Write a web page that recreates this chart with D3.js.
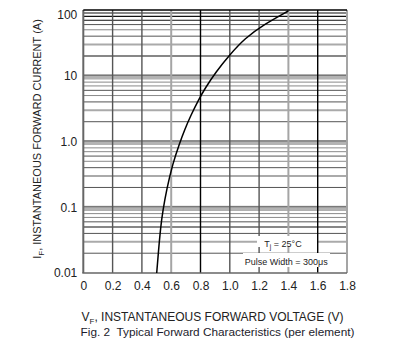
<!DOCTYPE html>
<html>
<head>
<meta charset="utf-8">
<script src="https://cdn.jsdelivr.net/npm/d3@7"></script>
<style>
  html, body { margin: 0; padding: 0; background: #fff; }
  svg { display: block; }
  text { font-family: "Liberation Sans", Arial, sans-serif; }
</style>
</head>
<body>
<svg id="chart" width="398" height="350"></svg>
<script>
// ---- data ----
const voltage = [0.501, 0.512, 0.528, 0.544, 0.568, 0.611, 0.657, 0.691, 0.735, 0.786, 0.831, 0.906, 0.998, 1.104, 1.227, 1.399];
const current = [0.0100, 0.0200, 0.0506, 0.0908, 0.183, 0.466, 0.94, 1.50, 2.53, 4.28, 6.44, 11.5, 20.7, 37.2, 59.2, 96.6];
const xTickValues = [0, 0.2, 0.4, 0.6, 0.8, 1.0, 1.2, 1.4, 1.6, 1.8];
const xTickLabels = ["0", "0.2", "0.4", "0.6", "0.8", "1.0", "1.2", "1.4", "1.6", "1.8"];
const yTickValues = [0.01, 0.1, 1, 10, 100];
const yTickLabels = ["0.01", "0.1", "1.0", "10", "100"];
const minorMultipliers = [2, 3, 4, 5, 6, 7, 8, 9];
const notes = ["= 25°C", "Pulse Width = 300μs"];

// ---- layout ----
const svg = d3.select("#chart");
const x = d3.scaleLinear().domain([0, 1.8]).range([83.3, 347]);
const y = d3.scaleLog().domain([0.01, 100]).range([273, 10]);

const grid = svg.append("g");

// horizontal minor lines
const minorVals = [];
[0.01, 0.1, 1, 10].forEach(d => minorMultipliers.forEach(m => minorVals.push({v: +(d * m).toPrecision(3), m})));
function hStyle(o) {
  if (o.v === 20 || o.v === 0.05 || o.v === 70 || o.v === 80 || o.v === 90) return {c: "#111", w: 1.1};
  if (o.m === 3) return {c: "#aaa", w: 2};
  if (o.m === 2 || o.m === 4 || o.m === 6) return {c: "#555", w: 1};
  return {c: "#8a8a8a", w: 1};
}
grid.selectAll("line.hminor").data(minorVals).join("line")
  .attr("x1", x(0)).attr("x2", x(1.8))
  .attr("y1", d => y(d.v)).attr("y2", d => y(d.v))
  .attr("stroke", d => hStyle(d).c).attr("stroke-width", d => hStyle(d).w);

// decade bands
const midDecades = yTickValues.filter(v => v > 0.01 && v < 100);
grid.selectAll("line.band").data(midDecades).join("line")
  .attr("x1", x(0)).attr("x2", x(1.8))
  .attr("y1", d => y(d) + 1).attr("y2", d => y(d) + 1)
  .attr("stroke", "#b3b3b3").attr("stroke-width", 5);
grid.selectAll("line.bandline").data(midDecades).join("line")
  .attr("x1", x(0)).attr("x2", x(1.8))
  .attr("y1", d => y(d) - 0.5).attr("y2", d => y(d) - 0.5)
  .attr("stroke", "#666").attr("stroke-width", 1);

// vertical lines
function vStyle(v) {
  const k = Math.round(v * 10);
  if (k === 8 || k === 16) return {c: "#000", w: 1.4};
  if (k === 6 || k === 14 || k === 18) return {c: "#a5a5a5", w: 2};
  if (k === 0) return {c: "#666", w: 2};
  return {c: "#555", w: 1.4};
}
grid.selectAll("line.v").data(xTickValues).join("line")
  .attr("x1", d => x(d)).attr("x2", d => x(d))
  .attr("y1", y(100)).attr("y2", y(0.01))
  .attr("stroke", d => vStyle(d).c).attr("stroke-width", d => vStyle(d).w);

// top and bottom borders
grid.append("line").attr("x1", x(0)).attr("x2", x(1.8)).attr("y1", y(100)).attr("y2", y(100))
  .attr("stroke", "#000").attr("stroke-width", 1.5);
grid.append("line").attr("x1", x(0) - 1).attr("x2", x(1.8)).attr("y1", y(0.01)).attr("y2", y(0.01))
  .attr("stroke", "#666").attr("stroke-width", 1.5);

// annotation boxes + text
const ann = svg.append("g");
const t1 = ann.append("text").attr("x", 283).attr("y", 246.5)
  .attr("text-anchor", "middle").attr("font-size", 9).attr("fill", "#222");
t1.append("tspan").text("T");
t1.append("tspan").attr("font-size", 6.5).attr("dy", 2).text("j");
t1.append("tspan").attr("dy", -2).text(" " + notes[0]);
const t2 = ann.append("text").attr("x", 286.3).attr("y", 265)
  .attr("text-anchor", "middle").attr("font-size", 9).attr("fill", "#222").text(notes[1]);
ann.insert("rect", "text").attr("x", 257).attr("y", 236).attr("width", 60).attr("height", 11).attr("fill", "#fff");
ann.insert("rect", "text").attr("x", 243).attr("y", 253).attr("width", 87).attr("height", 14).attr("fill", "#fff");

// curve
const pts = voltage.map((v, i) => [v, current[i]]);
svg.append("path").datum(pts)
  .attr("d", d3.line().x(d => x(d[0])).y(d => y(d[1])).curve(d3.curveBasis))
  .attr("fill", "none").attr("stroke", "#000").attr("stroke-width", 1.5);

// axes
const xAxis = svg.append("g").attr("transform", `translate(0,${y(0.01)})`)
  .call(d3.axisBottom(x).tickValues(xTickValues).tickFormat((d, i) => xTickLabels[i]).tickSize(0).tickPadding(8));
xAxis.select(".domain").remove();
xAxis.selectAll("text").attr("font-size", 12).attr("fill", "#222").style("font-family", "Liberation Sans, Arial, sans-serif");

const yAxis = svg.append("g").attr("transform", `translate(${x(0)},0)`)
  .call(d3.axisLeft(y).tickValues(yTickValues).tickFormat((d, i) => yTickLabels[i]).tickSize(0).tickPadding(6));
yAxis.select(".domain").remove();
yAxis.selectAll("text").attr("font-size", 12).attr("fill", "#222").style("font-family", "Liberation Sans, Arial, sans-serif");
yAxis.selectAll(".tick").filter(d => d === 100).select("text").attr("dy", "0.72em");

// axis titles
const yl = svg.append("text").attr("transform", "translate(41,139) rotate(-90)")
  .attr("text-anchor", "middle").attr("font-size", 11).attr("fill", "#222");
yl.append("tspan").text("I");
yl.append("tspan").attr("font-size", 8).attr("dy", 3).text("F");
yl.append("tspan").attr("dy", -3).text(", INSTANTANEOUS FORWARD CURRENT (A)");

const xl = svg.append("text").attr("x", 212.5).attr("y", 321)
  .attr("text-anchor", "middle").attr("font-size", 12).attr("fill", "#222");
xl.append("tspan").text("V");
xl.append("tspan").attr("font-size", 8).attr("dy", 3).text("F");
xl.append("tspan").attr("dy", -3).text(", INSTANTANEOUS FORWARD VOLTAGE (V)");

svg.append("text").attr("x", 217.5).attr("y", 336).attr("text-anchor", "middle")
  .attr("font-size", 11.8).attr("fill", "#1c1c2c").style("white-space", "pre")
  .text("Fig. 2  Typical Forward Characteristics (per element)");
</script>
</body>
</html>
